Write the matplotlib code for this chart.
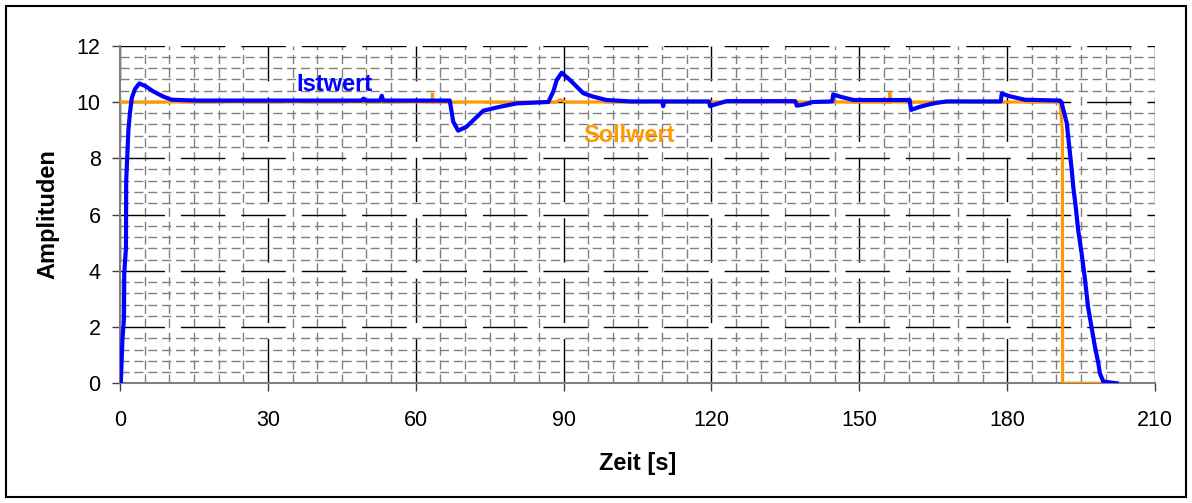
import matplotlib
matplotlib.use("Agg")
import matplotlib.pyplot as plt
from matplotlib.patches import Rectangle
from matplotlib.ticker import MultipleLocator

plt.rcParams['font.family'] = ['Liberation Sans', 'DejaVu Sans']
plt.rcParams['lines.scale_dashes'] = False

# Istwert (actual value) over time
ist_t = [0.15, 0.5, 0.8, 0.85, 1.0, 1.2, 1.25, 1.4, 1.7, 2.0, 2.4, 3.0, 3.9, 5.1,
         6.8, 8.8, 10.5, 15.6, 49.0, 49.4, 49.8, 52.8, 53.1, 53.4, 66.9, 67.6,
         68.6, 70.3, 73.7, 77.1, 80.5, 86.9, 87.9, 88.6, 89.6, 91.3, 94.0, 96.0,
         98.7, 103.5, 110.0, 110.2, 110.4, 119.5, 119.7, 120.5, 123.1, 137.0,
         137.3, 138.5, 140.6, 144.5, 144.7, 146.1, 148.8, 160.2, 160.5, 162.3,
         165.0, 167.7, 178.7, 178.9, 180.6, 183.6, 190.7, 191.0, 192.1, 192.7,
         193.1, 193.4, 193.9, 194.4, 195.1, 195.8, 196.4, 197.1, 197.8, 198.5,
         198.8, 199.5, 202.2]
ist_y = [0.0, 1.6, 2.3, 3.9, 4.3, 4.8, 7.2, 7.8, 9.0, 9.6, 10.15, 10.45, 10.66, 10.57,
         10.37, 10.19, 10.08, 10.05, 10.05, 10.12, 10.05, 10.05, 10.22, 10.05, 10.05, 9.3,
         8.98, 9.12, 9.69, 9.83, 9.95, 10.0, 10.37, 10.78, 11.04, 10.78, 10.31, 10.19,
         10.07, 10.02, 10.02, 9.85, 10.02, 10.02, 9.85, 9.9, 10.03, 10.03,
         9.87, 9.9, 10.0, 10.02, 10.27, 10.19, 10.07, 10.07, 9.72, 9.83,
         9.95, 10.02, 10.02, 10.3, 10.2, 10.08, 10.05, 10.0, 9.24, 8.23,
         7.58, 6.99, 6.28, 5.45, 4.62, 3.67, 2.72, 2.01, 1.30, 0.71,
         0.36, 0.06, 0.0]

# Sollwert (set point) over time
soll_t = [0.0, 63.3, 63.4, 63.5, 88.5, 89.3, 90.5, 156.1, 156.2, 156.3,
          190.7, 191.2, 191.25, 199.2]
soll_y = [10.0, 10.0, 10.32, 10.0, 10.0, 10.08, 10.0, 10.0, 10.35, 10.0,
          10.0, 9.0, 0.0, 0.0]

x_ticks = [0, 30, 60, 90, 120, 150, 180, 210]
y_ticks = [0, 2, 4, 6, 8, 10, 12]

BLUE = '#0000FF'
ORANGE = '#FF9900'

fig = plt.figure(figsize=(11.92, 5.03), dpi=100)
ax = fig.add_axes([0.1007, 0.2380, 0.8683, 0.6711])

ax.set_xlim(0, 210)
ax.set_ylim(0, 12)
ax.set_xticks(x_ticks)
ax.set_yticks(y_ticks)
ax.xaxis.set_minor_locator(MultipleLocator(5))
ax.yaxis.set_minor_locator(MultipleLocator(0.4))

ax.grid(which='minor', color='#808080', linewidth=1.0, linestyle=(0, (6.5, 3.5)), zorder=0)
ax.grid(which='major', color='black', linewidth=1.0, linestyle=(0, (32, 11.5)), zorder=0.5)
ax.set_axisbelow(True)

for side in ('top', 'right'):
    ax.spines[side].set_visible(False)
for side in ('left', 'bottom'):
    ax.spines[side].set_color('#808080')
    ax.spines[side].set_linewidth(1.5)

ax.tick_params(axis='both', which='major', direction='out', length=6, width=1,
               color='#404040', labelsize=15.5)
ax.tick_params(axis='x', which='major', pad=13)
ax.tick_params(axis='y', which='major', pad=8)
ax.tick_params(which='minor', length=0)

ax.plot(soll_t, soll_y, color=ORANGE, linewidth=2.3, solid_joinstyle='miter', zorder=3)
ax.plot(ist_t, ist_y, color=BLUE, linewidth=3.0, zorder=4)

ax.text(35.7, 10.62, 'Istwert', color=BLUE, fontsize=17, fontweight='bold',
        ha='left', va='center', zorder=5)
ax.text(93.9, 8.8, 'Sollwert', color=ORANGE, fontsize=17, fontweight='bold',
        ha='left', va='center', zorder=5)

ax.set_xlabel('Zeit [s]', fontsize=17, fontweight='bold', va='center')
ax.set_ylabel('Amplituden', fontsize=17, fontweight='bold', va='center')
ax.xaxis.set_label_coords(0.5, -0.239)
ax.yaxis.set_label_coords(-0.0696, 0.5)

fig.patches.append(Rectangle((6 / 1192, 6 / 503), 1180 / 1192, 491 / 503,
                             transform=fig.transFigure, fill=False,
                             edgecolor='black', linewidth=1.5))

fig.savefig('out.png', dpi=100)
